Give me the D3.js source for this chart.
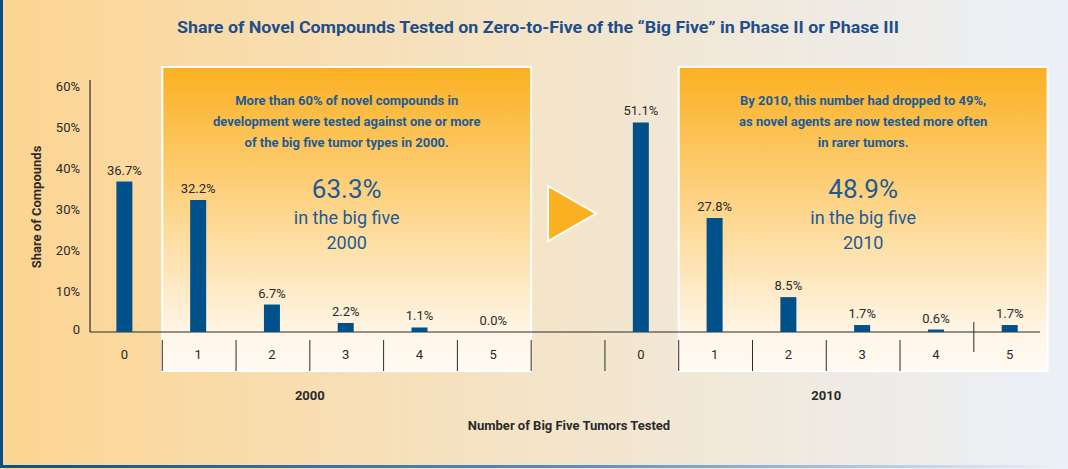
<!DOCTYPE html>
<html>
<head>
<meta charset="utf-8">
<script src="https://d3js.org/d3.v7.min.js"></script>
<style>
  body { margin: 0; background: #fff; }
  text { font-family: Roboto, "Noto Sans", sans-serif; }
</style>
</head>
<body>
<script>
// data
const slots = ["2000-0","2000-1","2000-2","2000-3","2000-4","2000-5","gap",
               "2010-0","2010-1","2010-2","2010-3","2010-4","2010-5"];
const tickLabels = ["0","1","2","3","4","5"];
const values2000 = [36.7, 32.2, 6.7, 2.2, 1.1, 0.0];
const values2010 = [51.1, 27.8, 8.5, 1.7, 0.6, 1.7];
const yTicks = [0, 10, 20, 30, 40, 50, 60];
const notes2000 = ["More than 60% of novel compounds in",
                   "development were tested against one or more",
                   "of the big five tumor types in 2000."];
const notes2010 = ["By 2010, this number had dropped to 49%,",
                   "as novel agents are now tested  more often",
                   "in rarer tumors."];
const totals = {"2000": "63.3%", "2010": "48.9%"};

const W = 1068, H = 469;
const blue = "#00508a", textBlue = "#1d5b97", dark = "#2b2a2a";

const svg = d3.select("body").append("svg")
  .attr("width", W).attr("height", H);

const defs = svg.append("defs");
const bg = defs.append("linearGradient").attr("id", "bg");
bg.append("stop").attr("offset", "0%").attr("stop-color", "#fdd592");
bg.append("stop").attr("offset", "50%").attr("stop-color", "#f4e4c8");
bg.append("stop").attr("offset", "100%").attr("stop-color", "#ebf0f8");
const box = defs.append("linearGradient").attr("id", "box")
  .attr("x1", 0).attr("y1", 0).attr("x2", 0).attr("y2", 1);
box.append("stop").attr("offset", "0%").attr("stop-color", "#fbb021");
box.append("stop").attr("offset", "88%").attr("stop-color", "#fff6e8");
box.append("stop").attr("offset", "100%").attr("stop-color", "#fffaf2");
const bl = defs.append("linearGradient").attr("id", "bline");
bl.append("stop").attr("offset", "0%").attr("stop-color", "#0b4f8a");
bl.append("stop").attr("offset", "55%").attr("stop-color", "#5f8fbf");
bl.append("stop").attr("offset", "100%").attr("stop-color", "#eef2f8");

svg.append("rect").attr("width", W).attr("height", H).attr("fill", "url(#bg)");
svg.append("rect").attr("x", 0).attr("y", 0).attr("width", 3).attr("height", 468).attr("fill", "#0b4f8a");
svg.append("rect").attr("x", 0).attr("y", 465).attr("width", W).attr("height", 3).attr("fill", "url(#bline)");

// scales
const x = d3.scaleBand().domain(slots).range([88.5, 1047.6]).paddingInner(0).paddingOuter(0);
const y = d3.scaleLinear().domain([0, 60]).range([332, 86]);
const bw = x.bandwidth();

// highlight boxes
[["2000-1", "2000-5"], ["2010-1", "2010-5"]].forEach(([a, b]) => {
  svg.append("rect")
    .attr("x", x(a)).attr("y", 67)
    .attr("width", x(b) + bw - x(a)).attr("height", 371 - 67)
    .attr("fill", "url(#box)")
    .attr("stroke", "#fff").attr("stroke-width", 2);
});

// title
svg.append("text").attr("x", 538).attr("y", 33).attr("text-anchor", "middle")
  .attr("font-size", 16).attr("font-weight", "bold").attr("fill", "#1f4e8c")
  .attr("textLength", 722).attr("lengthAdjust", "spacingAndGlyphs")
  .text("Share of Novel Compounds Tested on Zero-to-Five of the \u201cBig Five\u201d in Phase II or Phase III");

// y axis
svg.append("line").attr("x1", 90).attr("x2", 90).attr("y1", 80).attr("y2", 332)
  .attr("stroke", dark).attr("stroke-width", 1.2);
svg.append("g").selectAll("text").data(yTicks).join("text")
  .attr("x", 80).attr("y", d => y(d) - (d === 0 ? 3 : 0)).attr("dy", "0.35em")
  .attr("text-anchor", "end").attr("font-size", 13).attr("fill", dark)
  .text(d => d === 0 ? "0" : d + "%");
svg.append("text").attr("transform", "translate(41,207) rotate(-90)")
  .attr("text-anchor", "middle").attr("font-size", 13).attr("font-weight", "bold")
  .attr("fill", dark).text("Share of Compounds");

// x axis baseline
svg.append("line").attr("x1", 90).attr("x2", 1040).attr("y1", 332).attr("y2", 332)
  .attr("stroke", dark).attr("stroke-width", 1.2);

// separators
const seps = slots.slice(1, 12);
svg.append("g").selectAll("line").data(seps).join("line")
  .attr("x1", d => x(d)).attr("x2", d => x(d))
  .attr("y1", 340).attr("y2", 371)
  .attr("stroke", dark).attr("stroke-width", 1);
svg.append("line").attr("x1", x("2010-5")).attr("x2", x("2010-5"))
  .attr("y1", 322).attr("y2", 352).attr("stroke", dark).attr("stroke-width", 1);

// bars
const groups = [["2000", values2000], ["2010", values2010]];
groups.forEach(([yr, vals]) => {
  const g = svg.append("g");
  const data = vals.map((v, i) => ({ key: yr + "-" + i, v, t: tickLabels[i] }));
  g.selectAll("rect").data(data).join("rect")
    .attr("x", d => x(d.key) + bw / 2 - 9).attr("width", 16)
    .attr("y", d => y(d.v)).attr("height", d => y(0) - y(d.v))
    .attr("fill", blue);
  g.selectAll("text.val").data(data).join("text").attr("class", "val")
    .attr("x", d => x(d.key) + bw / 2 - 1).attr("y", d => y(d.v) - 7)
    .attr("text-anchor", "middle").attr("font-size", 13).attr("fill", dark)
    .text(d => d.v.toFixed(1) + "%");
  g.selectAll("text.tick").data(data).join("text").attr("class", "tick")
    .attr("x", d => x(d.key) + bw / 2 - 1).attr("y", 359)
    .attr("text-anchor", "middle").attr("font-size", 13).attr("fill", dark)
    .text(d => d.t);
  // group label
  const cx = (x(yr + "-0") + x(yr + "-5") + bw) / 2;
  svg.append("text").attr("x", cx).attr("y", 400).attr("text-anchor", "middle")
    .attr("font-size", 13).attr("font-weight", "bold").attr("fill", dark).text(yr);
  // annotations
  const bx = (x(yr + "-1") + x(yr + "-5") + bw) / 2;
  const notes = yr === "2000" ? notes2000 : notes2010;
  svg.append("g").selectAll("text").data(notes).join("text")
    .attr("x", bx).attr("y", (d, i) => 105 + i * 21)
    .attr("text-anchor", "middle").attr("font-size", 13).attr("font-weight", "bold")
    .attr("fill", textBlue).text(d => d);
  svg.append("text").attr("x", bx).attr("y", 198).attr("text-anchor", "middle")
    .attr("font-size", 26).attr("fill", textBlue).text(totals[yr]);
  svg.append("text").attr("x", bx).attr("y", 224).attr("text-anchor", "middle")
    .attr("font-size", 18).attr("fill", textBlue).text("in the big five");
  svg.append("text").attr("x", bx).attr("y", 249).attr("text-anchor", "middle")
    .attr("font-size", 18).attr("fill", textBlue).text(yr);
});

// arrow in the empty slot between the two years
const ax = x("gap") + bw / 2;
svg.append("path")
  .attr("d", `M${ax - 20},186 L${ax - 20},241 L${ax + 28},213.5 Z`)
  .attr("fill", "#fbb021").attr("stroke", "#fff").attr("stroke-width", 2)
  .attr("stroke-linejoin", "miter");

// x axis title
svg.append("text").attr("x", 569).attr("y", 430).attr("text-anchor", "middle")
  .attr("font-size", 13).attr("font-weight", "bold").attr("fill", dark)
  .text("Number of Big Five Tumors Tested");
</script>
</body>
</html>
